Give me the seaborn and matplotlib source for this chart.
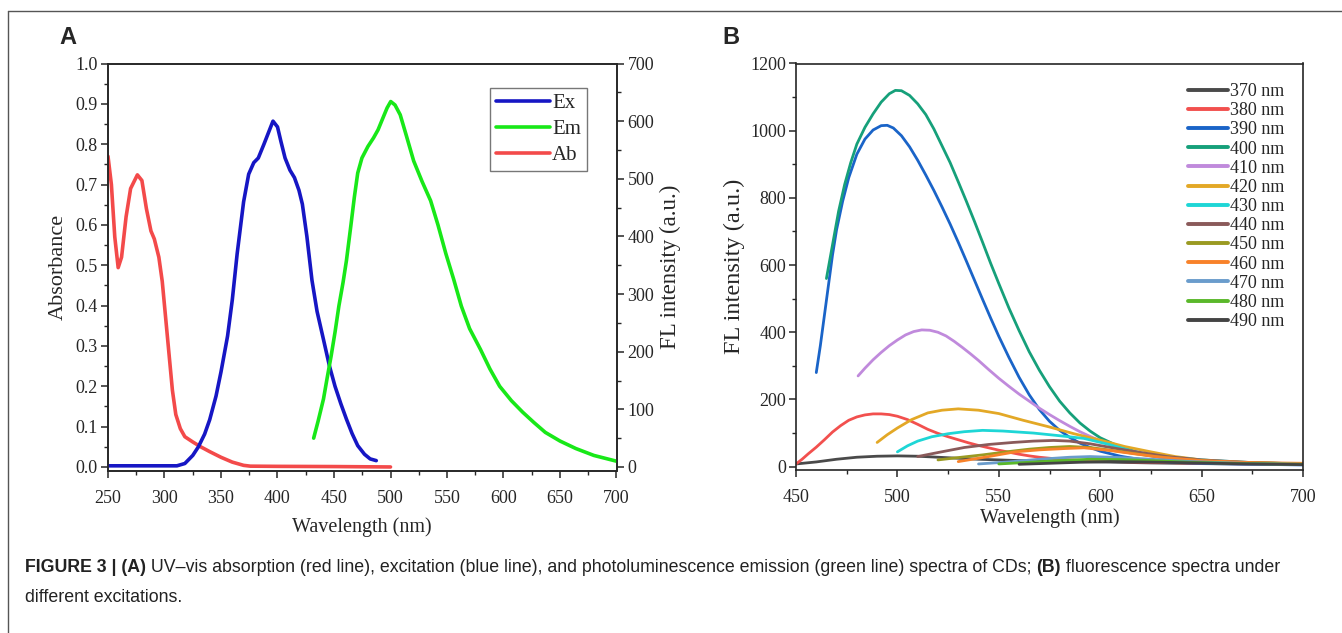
import matplotlib
matplotlib.use("Agg")
import matplotlib.pyplot as plt
from matplotlib.lines import Line2D
from matplotlib.ticker import MultipleLocator
import numpy as np
import seaborn as sns

# ---- Panel A data ----
ab_nm = [250, 253, 256, 259, 262, 266, 270, 276, 280, 284, 288, 291, 295, 298, 301, 304, 307,
         310, 314, 318, 325, 332, 340, 350, 360, 370, 376, 400, 450, 500]
ab_val = [0.77, 0.70, 0.57, 0.494, 0.52, 0.62, 0.69, 0.724, 0.71, 0.64, 0.585, 0.565, 0.52,
          0.46, 0.37, 0.28, 0.19, 0.13, 0.095, 0.075, 0.062, 0.05, 0.038, 0.024, 0.012,
          0.004, 0.002, 0.0015, 0.001, 0.0]

ex_nm = [250, 300, 311, 318, 325, 330, 335.5, 340, 345.6, 350, 355.8, 360, 364.3, 370, 374.5,
         379, 383, 388, 392, 396, 400, 403, 406.7, 411, 415, 419, 422, 426, 430.5, 435,
         440.7, 446, 450.9, 456, 461, 466, 471, 477, 482, 487.4]
ex_val = [2, 2, 2, 6, 20, 35, 57, 82, 123, 165, 227, 290, 370, 460, 508, 528, 536, 560, 580,
          600, 590, 565, 536, 515, 502, 480, 456, 400, 324, 270, 221, 175, 140, 110, 83, 58,
          37, 22, 14, 11]

em_nm = [432, 436, 440.7, 444, 447.5, 451, 454.3, 458, 461, 465, 468, 471, 474.7, 480, 485,
         489, 493.4, 497, 500.2, 504, 508.6, 514, 520.5, 528, 535.5, 542, 549, 556, 562.7,
         570, 579.6, 588, 596.6, 607, 617, 627, 637, 650, 664, 680, 700]
em_val = [50, 80, 118, 155, 193, 235, 279, 320, 358, 420, 468, 510, 536, 556, 571, 585, 606,
          623, 634, 628, 611, 575, 531, 495, 462, 420, 370, 325, 279, 240, 204, 170, 140,
          115, 95, 77, 60, 45, 32, 20, 10]

# ---- Panel B data: emission spectra at each excitation wavelength ----
b_labels = ["370 nm", "380 nm", "390 nm", "400 nm", "410 nm", "420 nm", "430 nm",
            "440 nm", "450 nm", "460 nm", "470 nm", "480 nm", "490 nm"]
b_colors = ["#4a4a4a", "#f2504e", "#1a64c8", "#16a07a", "#c08adc", "#e3a826", "#1ed6d6",
            "#8a5a5a", "#9a9a22", "#f8822a", "#6a9ccc", "#5ab82a", "#444444"]

nm_370 = [450, 460, 470, 480, 490, 500, 510, 520, 530, 540, 560, 580, 600, 625, 650, 700]
fl_370 = [8, 14, 22, 28, 31, 32, 31, 28, 25, 22, 18, 16, 14, 11, 9, 6]

nm_380 = [450, 453, 456, 460, 464, 468, 472, 476, 480, 484, 488, 492, 496, 500, 505, 510,
          515, 520, 525, 530, 535, 540, 545, 550, 555, 560, 565, 570, 575, 585, 600, 650, 700]
fl_380 = [8, 22, 38, 58, 80, 103, 122, 138, 148, 154, 157, 157, 155, 150, 140, 126,
          111, 99, 89, 80, 71, 63, 56, 49, 43, 37, 32, 28, 25, 20, 16, 10, 6]

nm_390 = [460, 462, 464, 466, 468, 470, 473, 476, 480, 484, 488, 492, 495, 498, 502, 506,
          510, 514, 518, 522, 526, 530, 534, 538, 542, 546, 550, 555, 560, 565, 570, 575,
          580, 585, 590, 595, 600, 610, 620, 635, 655, 700]
fl_390 = [280, 360, 450, 540, 630, 705, 790, 860, 930, 975, 1002, 1015, 1016, 1008, 985,
          952, 912, 868, 822, 773, 722, 668, 612, 555, 498, 442, 388, 325, 266, 214, 170,
          135, 108, 87, 70, 57, 46, 31, 21, 13, 9, 5]

nm_400 = [465, 468, 471, 474, 477, 480, 484, 488, 492, 496, 499, 502, 506, 510, 514, 518,
          522, 526, 530, 534, 538, 542, 546, 550, 555, 560, 565, 570, 575, 580, 585, 590,
          595, 600, 610, 620, 630, 640, 655, 670, 700]
fl_400 = [560, 660, 760, 840, 905, 960, 1010, 1050, 1085, 1110, 1120, 1119, 1105, 1080,
          1048, 1005, 955, 905, 848, 790, 730, 668, 605, 545, 472, 405, 342, 287, 238, 195,
          160, 130, 106, 86, 58, 40, 28, 20, 13, 10, 7]

nm_410 = [480.6, 484, 488, 492, 496, 500, 504, 508, 512, 516, 520, 524, 528, 532, 536, 540,
          545, 550, 555, 560, 565, 570, 575, 580, 585, 590, 595, 600, 605, 610, 620, 630,
          640, 655, 670, 700]
fl_410 = [270, 293, 318, 340, 360, 377, 392, 402, 407, 406, 400, 389, 373, 355, 336, 316,
          289, 263, 239, 216, 195, 174, 155, 137, 120, 104, 90, 77, 65, 55, 38, 26, 18, 12,
          9, 7]

nm_420 = [490, 495, 500, 507, 515, 522, 530, 540, 550, 562, 575, 587, 600, 612, 625, 637,
          650, 670, 700]
fl_420 = [72, 95, 115, 140, 160, 168, 172, 168, 158, 138, 118, 98, 79, 60, 44, 30, 20, 12, 8]

nm_430 = [500, 505, 510, 517, 525, 533, 542, 552, 567, 580, 592, 605, 617, 630, 650, 675, 700]
fl_430 = [44, 62, 76, 89, 98, 104, 108, 106, 100, 92, 84, 65, 44, 30, 20, 12, 8]

nm_440 = [510, 520, 533, 545, 557, 567, 577, 585, 595, 608, 620, 633, 650, 675, 700]
fl_440 = [30, 42, 57, 66, 72, 76, 78, 76, 68, 54, 42, 30, 20, 12, 8]

nm_450 = [520, 530, 542, 555, 565, 575, 585, 595, 610, 625, 640, 660, 700]
fl_450 = [20, 27, 35, 45, 52, 57, 60, 57, 45, 32, 22, 14, 8]

nm_460 = [530, 545, 558, 570, 583, 592, 605, 617, 630, 650, 675, 700]
fl_460 = [15, 30, 44, 50, 54, 56, 48, 38, 28, 18, 12, 10]

nm_470 = [540, 555, 570, 585, 595, 610, 625, 645, 670, 700]
fl_470 = [8, 14, 22, 28, 30, 27, 22, 15, 10, 7]

nm_480 = [550, 565, 580, 595, 610, 625, 645, 670, 700]
fl_480 = [8, 13, 18, 22, 21, 18, 13, 9, 7]

nm_490 = [560, 575, 590, 605, 620, 640, 665, 700]
fl_490 = [7, 10, 13, 15, 14, 12, 9, 6]

b_series = [(nm_370, fl_370), (nm_380, fl_380), (nm_390, fl_390), (nm_400, fl_400),
            (nm_410, fl_410), (nm_420, fl_420), (nm_430, fl_430), (nm_440, fl_440),
            (nm_450, fl_450), (nm_460, fl_460), (nm_470, fl_470), (nm_480, fl_480),
            (nm_490, fl_490)]

sns.set_style("ticks")
plt.rcParams["font.family"] = ["Liberation Serif", "DejaVu Serif"]
plt.rcParams["axes.linewidth"] = 1.2
plt.rcParams["xtick.direction"] = "out"
plt.rcParams["ytick.direction"] = "out"

fig = plt.figure(figsize=(13.42, 6.33), dpi=100)
axA = fig.add_axes([108 / 1342, 1 - 471 / 633, 508.5 / 1342, 407.5 / 633])
axA2 = axA.twinx()
axB = fig.add_axes([796 / 1342, 1 - 470 / 633, 507 / 1342, 406.5 / 633])

# ---- Panel A ----
sns.lineplot(x=ab_nm, y=ab_val, ax=axA, color="#f34a4a", lw=2.6, label="Ab", legend=False)
sns.lineplot(x=ex_nm, y=ex_val, ax=axA2, color="#1616c4", lw=2.6, label="Ex", legend=False)
sns.lineplot(x=em_nm, y=em_val, ax=axA2, color="#18e818", lw=2.6, label="Em", legend=False)

axA.set_xlim(250, 700)
axA.set_ylim(-0.01, 1.0)
axA2.set_ylim(-7, 700)
axA.xaxis.set_major_locator(MultipleLocator(50))
axA.xaxis.set_minor_locator(MultipleLocator(25))
axA.yaxis.set_minor_locator(MultipleLocator(0.05))
axA2.yaxis.set_major_locator(MultipleLocator(100))
axA2.yaxis.set_minor_locator(MultipleLocator(50))
axA.set_yticks(np.arange(0, 1.01, 0.1))
axA.set_yticklabels([f"{v:.1f}" for v in np.arange(0, 1.01, 0.1)])
axA.tick_params(which="major", length=5, width=1.1, labelsize=13, top=False, right=False)
axA.tick_params(axis="x", which="major", pad=9)
axA.tick_params(axis="y", which="major", pad=2.5)
axA.tick_params(which="minor", length=3, width=1.0, top=False, right=False)
axA2.tick_params(which="major", length=5, width=1.1, labelsize=13, pad=3)
axA2.tick_params(which="minor", length=3, width=1.0)
axA.set_xlabel("Wavelength (nm)", fontsize=14.5, labelpad=7)
axA.set_ylabel("Absorbance", fontsize=16, labelpad=5)
axA2.set_ylabel("FL intensity (a.u.)", fontsize=16.5, labelpad=4)
for sp in axA.spines.values():
    sp.set_visible(True)

hA = [axA2.get_lines()[0], axA2.get_lines()[1], axA.get_lines()[0]]
legA = axA2.legend(hA, ["Ex", "Em", "Ab"], loc="upper left", bbox_to_anchor=(0.751, 0.94),
                   fontsize=15, frameon=True, fancybox=False, edgecolor="#777777",
                   framealpha=1, handlelength=2.6, handletextpad=0.1, labelspacing=0.3,
                   borderpad=0.28, borderaxespad=0)
legA.get_frame().set_linewidth(1.0)

# ---- Panel B ----
for (xs, ys), lab, col in zip(b_series, b_labels, b_colors):
    sns.lineplot(x=xs, y=ys, ax=axB, color=col, lw=2.0, label=lab, legend=False)

axB.set_xlim(450, 700)
axB.set_ylim(-10, 1200)
axB.xaxis.set_major_locator(MultipleLocator(50))
axB.xaxis.set_minor_locator(MultipleLocator(25))
axB.yaxis.set_minor_locator(MultipleLocator(100))
axB.set_yticks(range(0, 1201, 200))
axB.tick_params(which="major", length=5, width=1.1, labelsize=13, top=False, right=False)
axB.tick_params(axis="x", which="major", pad=9)
axB.tick_params(axis="y", which="major", pad=2)
axB.tick_params(which="minor", length=3, width=1.0, top=False, right=False)
axB.set_xlabel("Wavelength (nm)", fontsize=14.5, labelpad=1)
axB.set_ylabel("FL intensity (a.u.)", fontsize=17.5, labelpad=4)
for sp in axB.spines.values():
    sp.set_visible(True)
legB = axB.legend(loc="upper left", bbox_to_anchor=(0.773, 0.952), fontsize=13, frameon=False,
                  handlelength=2.2, handletextpad=0.12, labelspacing=0.12, borderpad=0,
                  borderaxespad=0)
for ln in legB.get_lines():
    ln.set_linewidth(2.8)

# panel letters
fig.text(68 / 1342, 1 - 37 / 633, "A", fontsize=17, fontweight="bold",
         family=["Liberation Sans", "DejaVu Sans"], ha="center", va="center")
fig.text(731 / 1342, 1 - 37 / 633, "B", fontsize=17, fontweight="bold",
         family=["Liberation Sans", "DejaVu Sans"], ha="center", va="center")

# outer frame lines
fig.add_artist(Line2D([8 / 1342, 1.0], [1 - 11 / 633, 1 - 11 / 633], color="#555555", lw=1.0,
                      transform=fig.transFigure))
fig.add_artist(Line2D([8 / 1342, 8 / 1342], [0, 1 - 11 / 633], color="#555555", lw=1.0,
                      transform=fig.transFigure))

# caption with mixed bold / regular pieces
cap_family = ["Liberation Sans", "DejaVu Sans"]
line1 = [("FIGURE 3 | (A)", "bold"),
         (" UV\u2013vis absorption (red line), excitation (blue line), and photoluminescence "
          "emission (green line) spectra of CDs; ", "normal"),
         ("(B)", "bold"),
         (" fluorescence spectra under", "normal")]
fig.canvas.draw()
renderer = fig.canvas.get_renderer()
x = 25 / 1342
for txt, wt in line1:
    t = fig.text(x, 1 - 567 / 633, txt, fontsize=12.8, fontweight=wt, family=cap_family,
                 ha="left", va="center", color="#222222")
    bb = t.get_window_extent(renderer=renderer)
    x += bb.width / fig.bbox.width
fig.text(25 / 1342, 1 - 597 / 633, "different excitations.", fontsize=12.8, family=cap_family,
         ha="left", va="center", color="#222222")

fig.savefig("out.png", dpi=100)
